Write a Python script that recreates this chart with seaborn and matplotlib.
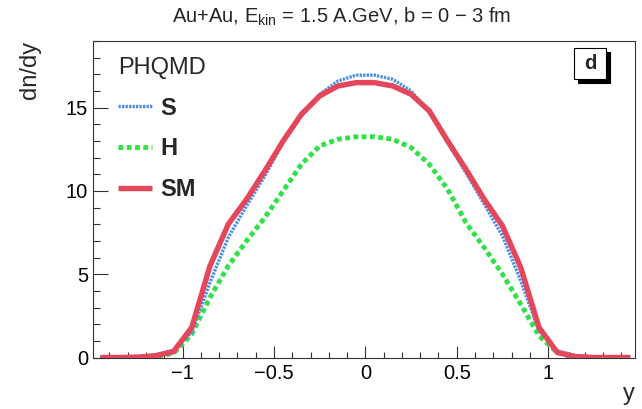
import numpy as np
import pandas as pd
import matplotlib
matplotlib.use("Agg")
import matplotlib.pyplot as plt
import matplotlib.patches as mpatches
import seaborn as sns

# ---------------- data ----------------
y_rap = [-1.45, -1.35, -1.25, -1.15, -1.05, -0.95, -0.85, -0.75, -0.65, -0.55,
         -0.45, -0.35, -0.25, -0.15, -0.05, 0.05, 0.15, 0.25, 0.35, 0.45,
         0.55, 0.65, 0.75, 0.85, 0.95, 1.05, 1.15, 1.25, 1.35, 1.45]
dndy_S = [0.0, 0.0, 0.03, 0.15, 0.45, 1.5, 4.5, 7.2, 9.1, 10.9,
          12.9, 14.5, 15.8, 16.6, 16.95, 16.95, 16.7, 16.0, 14.7, 12.9,
          11.1, 9.2, 7.3, 4.6, 1.6, 0.4, 0.12, 0.03, 0.0, 0.0]
dndy_H = [0.0, 0.0, 0.0, 0.05, 0.25, 1.4, 3.6, 5.5, 7.0, 8.4,
          10.0, 11.6, 12.7, 13.1, 13.25, 13.25, 13.1, 12.6, 11.6, 10.1,
          8.1, 6.6, 5.0, 3.2, 1.3, 0.3, 0.03, 0.0, 0.0, 0.0]
dndy_SM = [0.0, 0.0, 0.02, 0.1, 0.35, 1.8, 5.5, 8.0, 9.5, 11.2,
           13.0, 14.6, 15.7, 16.3, 16.5, 16.5, 16.3, 15.8, 14.8, 13.0,
           11.3, 9.5, 7.9, 5.4, 1.8, 0.3, 0.05, 0.0, 0.0, 0.0]
series_names = ["S", "H", "SM"]
x_ticks = [-1, -0.5, 0, 0.5, 1]
x_ticklabels = ["\u22121", "\u22120.5", "0", "0.5", "1"]
y_ticks = [0, 5, 10, 15]
y_ticklabels = ["0", "5", "10", "15"]

df = pd.DataFrame({"y": y_rap * 3,
                   "dndy": dndy_S + dndy_H + dndy_SM,
                   "model": ["S"] * 30 + ["H"] * 30 + ["SM"] * 30})

# ---------------- style ----------------
sns.set_theme(style="white")
plt.rcParams["font.family"] = ["Liberation Sans", "DejaVu Sans"]
plt.rcParams["mathtext.fontset"] = "custom"
plt.rcParams["mathtext.rm"] = "Liberation Sans"
plt.rcParams["mathtext.it"] = "Liberation Sans"

fig = plt.figure(figsize=(6.42, 4.09), dpi=100)
ax = fig.add_axes([93 / 642, 1 - 357.5 / 409, 542 / 642, 316.5 / 409])

styles = {
    "S": dict(color="#4a90e8", lw=2.4, dashes=(0.7, 0.35), z=3),
    "H": dict(color="#30e048", lw=3.5, dashes=(1.0, 0.7), z=2),
    "SM": dict(color="#e4465a", lw=3.9, dashes=None, z=4),
}
handles = {}
for name in series_names:
    st = styles[name]
    sub = df[df["model"] == name]
    sns.lineplot(data=sub, x="y", y="dndy", ax=ax, color=st["color"],
                 lw=st["lw"], zorder=st["z"], legend=False)
    line = ax.get_lines()[-1]
    if st["dashes"] is not None:
        line.set_dashes(st["dashes"])
        line.set_dash_capstyle("butt")
    else:
        line.set_solid_capstyle("butt")
    handles[name] = line

ax.set_xlim(-1.49, 1.475)
ax.set_ylim(0, 19.0)
ax.set_xticks(x_ticks)
ax.set_xticklabels(x_ticklabels)
ax.set_yticks(y_ticks)
ax.set_yticklabels(y_ticklabels)
ax.set_xticks(np.arange(-1.4, 1.45, 0.1), minor=True)
ax.set_yticks(np.arange(0, 19.5, 1), minor=True)

for s in ax.spines.values():
    s.set_color("#333333")
    s.set_linewidth(0.8)
ax.tick_params(axis="both", which="both", direction="in", colors="#333333",
               labelcolor="black", labelsize=14.5, width=0.8,
               bottom=True, left=True, top=False, right=False)
ax.tick_params(axis="y", which="major", length=10.5, pad=3.5)
ax.tick_params(axis="y", which="minor", length=5)
ax.tick_params(axis="x", which="major", length=8.7, pad=5)
ax.tick_params(axis="x", which="minor", length=4.3)

ax.set_xlabel("y", fontsize=17, loc="right", labelpad=0)
ax.set_ylabel("dn/dy", fontsize=17, loc="top", labelpad=18)

fig.text(342 / 642, 1 - 23 / 409,
         r"Au+Au, E$_{\mathregular{kin}}$ = 1.5 A.GeV, b = 0 $\mathregular{-}$ 3 fm",
         ha="center", va="baseline", fontsize=14.5)

leg = ax.legend([handles[n] for n in series_names], series_names,
                title="PHQMD", loc="upper left", bbox_to_anchor=(0.046, 0.95),
                frameon=False, borderpad=0, borderaxespad=0,
                handlelength=1.44, handletextpad=0.35, labelspacing=0.75,
                prop={"weight": "bold", "size": 17}, title_fontsize=17,
                alignment="left")

# "d" panel label box with shadow
bx, by, bw, bh = (574 - 93) / 542, (357.5 - 79) / 316.5, 32 / 542, 31 / 316.5
ax.add_patch(mpatches.Rectangle((bx + 4 / 542, by - 4 / 316.5), bw, bh,
                                transform=ax.transAxes, facecolor="black",
                                edgecolor="black", lw=0.8, zorder=9, clip_on=False))
ax.add_patch(mpatches.Rectangle((bx, by), bw, bh, transform=ax.transAxes,
                                facecolor="white", edgecolor="black", lw=0.8,
                                zorder=10, clip_on=False))
ax.text(bx + bw / 2, by + bh / 2, "d", transform=ax.transAxes, ha="center",
        va="center", fontsize=14.5, fontweight="bold", zorder=11)

fig.savefig("out.png", dpi=100)
